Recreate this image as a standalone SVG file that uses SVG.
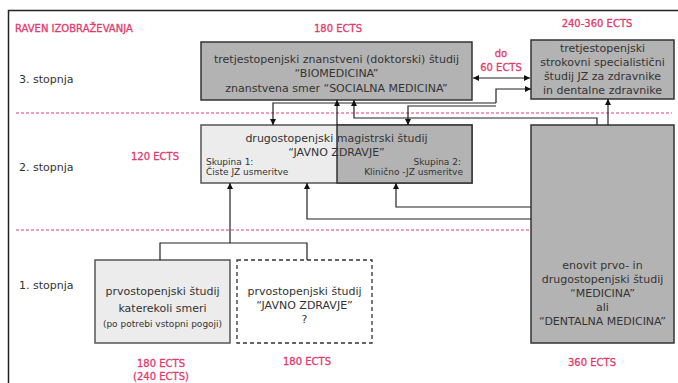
<svg xmlns="http://www.w3.org/2000/svg" width="678" height="383" viewBox="0 0 678 383">
<style>
text{font-family:"DejaVu Sans","Liberation Sans",sans-serif;fill:#333;font-size:11px}
.c{text-anchor:middle}
.r{text-anchor:end}
.s{font-size:9px}
.pk{fill:#e23a6c;font-size:10px;stroke:#e23a6c;stroke-width:0.3}
.dark{fill:#b3b3b3;stroke:#333;stroke-width:1.5}
.light{fill:#ececec;stroke:#555;stroke-width:1.5}
.dash{fill:#fff;stroke:#333;stroke-width:1.3;stroke-dasharray:4 3}
.sep{stroke:#e23a6c;stroke-width:1;stroke-dasharray:3 2;fill:none}
.ln{fill:none;stroke:#222;stroke-width:1.2}
</style>
<defs>
<marker id="ah" viewBox="0 0 10 10" refX="10" refY="5" markerWidth="6" markerHeight="6" markerUnits="userSpaceOnUse" orient="auto-start-reverse">
<path d="M0,0 L10,5 L0,10 z" fill="#111"/>
</marker>
</defs>
<rect x="8.5" y="10.5" width="680" height="380" fill="#fff" stroke="#222" stroke-width="1.5"/>
<line class="sep" x1="16" y1="113" x2="672" y2="113"/>
<line class="sep" x1="16" y1="230" x2="672" y2="230"/>
<g id="labels">
<text class="pk" x="15" y="32">RAVEN IZOBRAŽEVANJA</text>
<text x="19" y="83">3. stopnja</text>
<text x="19" y="171">2. stopnja</text>
<text x="19" y="289">1. stopnja</text>
<text class="pk c" x="338" y="32">180 ECTS</text>
<text class="pk c" x="597" y="27">240-360 ECTS</text>
<text class="pk c" x="501" y="57">do</text>
<text class="pk c" x="501" y="71">60 ECTS</text>
<text class="pk c" x="155" y="160">120 ECTS</text>
<text class="pk c" x="161" y="367">180 ECTS</text>
<text class="pk c" x="161" y="380">(240 ECTS)</text>
<text class="pk c" x="307" y="365">180 ECTS</text>
<text class="pk c" x="592" y="366">360 ECTS</text>
</g>
<g id="doktorski">
<rect class="dark" x="201" y="42" width="271" height="58"/>
<text class="c" x="336.5" y="63">tretjestopenjski znanstveni (doktorski) študij</text>
<text class="c" x="336.5" y="77">“BIOMEDICINA”</text>
<text class="c" x="336.5" y="92">znanstvena smer “SOCIALNA MEDICINA”</text>
</g>
<g id="specialisticni">
<rect class="dark" x="531" y="40" width="143" height="59"/>
<text class="c" x="602.5" y="52">tretjestopenjski</text>
<text class="c" x="602.5" y="66">strokovni specialistični</text>
<text class="c" x="602.5" y="80">študij JZ za zdravnike</text>
<text class="c" x="602.5" y="94">in dentalne zdravnike</text>
</g>
<g id="magistrski">
<rect class="light" x="201" y="125" width="271" height="58"/>
<rect class="dark" x="337" y="125" width="135" height="58"/>
<text class="c" x="336.5" y="142">drugostopenjski magistrski študij</text>
<text class="c" x="336.5" y="156">“JAVNO ZDRAVJE”</text>
<text class="s" x="206" y="165">Skupina 1:</text>
<text class="s" x="206" y="175">Čiste JZ usmeritve</text>
<text class="s r" x="461" y="165">Skupina 2:</text>
<text class="s r" x="463" y="175">Klinično -JZ usmeritve</text>
</g>
<g id="enovit">
<rect class="dark" x="531" y="125" width="143" height="218"/>
<text class="c" x="602.5" y="269">enovit prvo- in</text>
<text class="c" x="602.5" y="283">drugostopenjski študij</text>
<text class="c" x="602.5" y="297">“MEDICINA”</text>
<text class="c" x="602.5" y="311">ali</text>
<text class="c" x="602.5" y="325">“DENTALNA MEDICINA”</text>
</g>
<g id="prvostopenjski">
<rect class="light" x="95" y="260" width="135" height="83"/>
<text class="c" x="162.5" y="295">prvostopenjski študij</text>
<text class="c" x="162.5" y="312">katerekoli smeri</text>
<text class="c s" x="162.5" y="327">(po potrebi vstopni pogoji)</text>
</g>
<g id="prvostopenjski-jz">
<rect class="dash" x="237" y="260" width="135" height="83"/>
<text class="c" x="304.5" y="295">prvostopenjski študij</text>
<text class="c" x="304.5" y="309">“JAVNO ZDRAVJE”</text>
<text class="c" x="304.5" y="323">?</text>
</g>
<g id="connectors">
<line class="ln" x1="473" y1="78" x2="530" y2="78" marker-start="url(#ah)" marker-end="url(#ah)"/>
<path class="ln" d="M496,103 H273 V125" marker-end="url(#ah)"/>
<path class="ln" d="M496,106 H408 V125" marker-end="url(#ah)"/>
<path class="ln" d="M496,103 V89 H531" marker-end="url(#ah)"/>
<path class="ln" d="M597,125 V118 H354 V100" marker-end="url(#ah)"/>
<path class="ln" d="M608,125 V99" marker-end="url(#ah)"/>
<path class="ln" d="M337,125 V100" marker-end="url(#ah)"/>
<path class="ln" d="M531,219 H307 V183" marker-end="url(#ah)"/>
<path class="ln" d="M531,207 H396 V183" marker-end="url(#ah)"/>
<path class="ln" d="M160,260 V243 H307 V260"/>
<path class="ln" d="M230,243 V183" marker-end="url(#ah)"/>
</g>
</svg>
